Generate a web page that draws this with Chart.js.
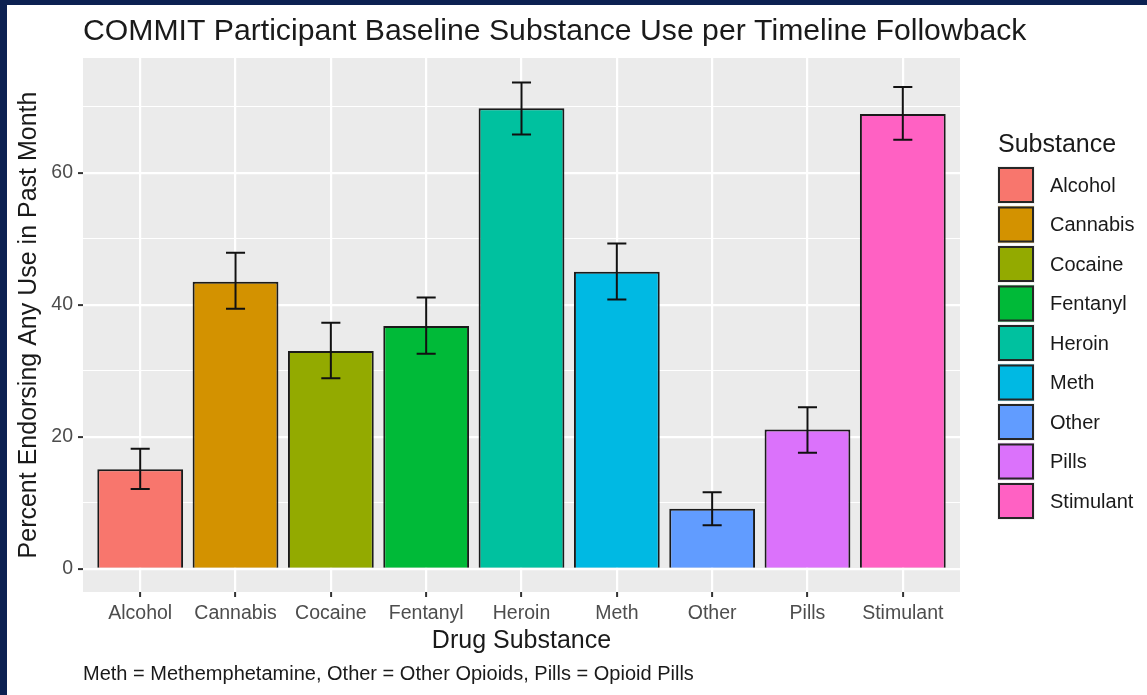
<!DOCTYPE html>
<html>
<head>
<meta charset="utf-8">
<title>COMMIT Participant Baseline Substance Use</title>
<script src="https://cdn.jsdelivr.net/npm/chart.js@4.4.1/dist/chart.umd.min.js"></script>
<style>
  html, body { margin: 0; padding: 0; background: #ffffff; }
  #wrap { width: 1147px; height: 695px; }
</style>
</head>
<body>
<div id="wrap"><canvas id="chart" width="1147" height="695"></canvas></div>
<script>
// Substances shown on the x axis and in the legend
const substances = ['Alcohol', 'Cannabis', 'Cocaine', 'Fentanyl', 'Heroin', 'Meth', 'Other', 'Pills', 'Stimulant'];
// Percent endorsing any use in the past month
const pctUse = [15.1, 43.5, 33.0, 36.8, 69.8, 45.0, 9.1, 21.1, 68.9];
// Lower / upper ends of the error bars
const ciLower = [12.1, 39.4, 28.9, 32.6, 65.8, 40.8, 6.6, 17.6, 65.0];
const ciUpper = [18.2, 47.9, 37.3, 41.1, 73.7, 49.3, 11.6, 24.5, 73.0];
// Y axis tick labels
const yTickLabels = [0, 20, 40, 60];
// Fill colours, one per substance
const fillColours = ['#F8766D', '#D39200', '#93AA00', '#00BA38', '#00C19F', '#00B9E3', '#619CFF', '#DB72FB', '#FF61C3'];

const FONT = '"Liberation Sans", Arial, Helvetica, sans-serif';
const PANEL = { left: 83, right: 960, top: 58, bottom: 592 };

// Page background, navy frame and grey panel
const backdrop = {
  id: 'backdrop',
  beforeDraw(chart) {
    const { ctx, chartArea: a } = chart;
    ctx.save();
    ctx.fillStyle = '#ffffff';
    ctx.fillRect(0, 0, chart.width, chart.height);
    ctx.fillStyle = '#0c2152';
    ctx.fillRect(0, 0, chart.width, 5);
    ctx.fillRect(0, 0, 7, chart.height);
    ctx.fillStyle = '#EBEBEB';
    ctx.fillRect(a.left, a.top, a.right - a.left, a.bottom - a.top);
    ctx.restore();
  }
};

// Error bars drawn from ciLower / ciUpper through the chart scales
const errorBars = {
  id: 'errorBars',
  afterDatasetsDraw(chart) {
    const { ctx, scales: { x, y } } = chart;
    const unit = x.getPixelForValue(2) - x.getPixelForValue(1);
    const half = unit * 0.1;
    ctx.save();
    ctx.strokeStyle = '#111111';
    ctx.lineWidth = 2;
    ctx.lineCap = 'butt';
    substances.forEach((_, i) => {
      const px = x.getPixelForValue(i + 1);
      const yLo = y.getPixelForValue(ciLower[i]);
      const yHi = y.getPixelForValue(ciUpper[i]);
      ctx.beginPath();
      ctx.moveTo(px, yLo); ctx.lineTo(px, yHi);
      ctx.moveTo(px - half, yHi); ctx.lineTo(px + half, yHi);
      ctx.moveTo(px - half, yLo); ctx.lineTo(px + half, yLo);
      ctx.stroke();
    });
    ctx.restore();
  }
};

// Title, axis titles, caption and the fill legend
const annotations = {
  id: 'annotations',
  afterDraw(chart) {
    const { ctx, chartArea: a } = chart;
    ctx.save();
    ctx.fillStyle = '#1a1a1a';
    ctx.textAlign = 'left';
    ctx.textBaseline = 'alphabetic';
    ctx.font = '30.2px ' + FONT;
    ctx.fillText('COMMIT Participant Baseline Substance Use per Timeline Followback', a.left, 40);

    ctx.font = '25px ' + FONT;
    ctx.textAlign = 'center';
    ctx.fillText('Drug Substance', (a.left + a.right) / 2, 648);

    ctx.save();
    ctx.translate(29, (a.top + a.bottom) / 2);
    ctx.rotate(-Math.PI / 2);
    ctx.textBaseline = 'middle';
    ctx.fillText('Percent Endorsing Any Use in Past Month', 0, 0);
    ctx.restore();

    ctx.textAlign = 'left';
    ctx.font = '20px ' + FONT;
    ctx.fillText('Meth = Methemphetamine, Other = Other Opioids, Pills = Opioid Pills', a.left, 680);

    // legend
    ctx.font = '25px ' + FONT;
    ctx.fillText('Substance', 998, 152);
    const keyX = 998, keyTop = 167, keySize = 36, keyStep = 39.5;
    ctx.font = '20px ' + FONT;
    substances.forEach((name, i) => {
      const top = keyTop + i * keyStep;
      ctx.fillStyle = '#F2F2F2';
      ctx.fillRect(keyX - 1, top - 1, keySize + 2, keySize + 2);
      ctx.fillStyle = fillColours[i];
      ctx.fillRect(keyX, top, keySize, keySize);
      ctx.strokeStyle = '#262626';
      ctx.lineWidth = 2;
      ctx.strokeRect(keyX + 1, top + 1, keySize - 2, keySize - 2);
      ctx.fillStyle = '#1a1a1a';
      ctx.textBaseline = 'middle';
      ctx.fillText(name, 1050, top + keySize / 2 + 1);
    });
    ctx.restore();
  }
};

const ctx = document.getElementById('chart').getContext('2d');
new Chart(ctx, {
  type: 'bar',
  data: {
    datasets: [{
      label: 'Substance',
      data: pctUse.map((v, i) => ({ x: i + 1, y: v })),
      backgroundColor: fillColours,
      borderColor: '#1a1a1a',
      borderWidth: 2,
      barPercentage: 0.9,
      categoryPercentage: 1.0
    }]
  },
  options: {
    responsive: false,
    animation: false,
    events: [],
    layout: { padding: { left: 0, right: 1147 - PANEL.right, top: PANEL.top, bottom: 0 } },
    plugins: {
      legend: { display: false },
      title: { display: false },
      tooltip: { enabled: false }
    },
    scales: {
      x: {
        type: 'linear',
        min: 0.4,
        max: 9.6,
        offset: false,
        afterBuildTicks(scale) {
          scale.ticks = substances.map((_, i) => ({ value: i + 1 }));
        },
        afterFit(scale) { scale.height = 695 - PANEL.bottom; },
        border: { display: false },
        grid: {
          offset: false,
          color: '#ffffff',
          lineWidth: 2.2,
          tickColor: '#333333',
          tickLength: 5,
          tickWidth: 2
        },
        ticks: {
          autoSkip: false,
          maxRotation: 0,
          padding: 5,
          color: '#4D4D4D',
          font: { family: FONT, size: 19.5 },
          callback: (v) => substances[Math.round(v) - 1] || ''
        }
      },
      y: {
        min: -3.5,
        max: 77.4,
        afterBuildTicks(scale) {
          const t = [];
          for (let v = 0; v <= 70; v += 10) t.push({ value: v });
          scale.ticks = t;
        },
        afterFit(scale) { scale.width = PANEL.left; },
        border: { display: false },
        grid: {
          color: '#ffffff',
          lineWidth: (c) => (c.tick && c.tick.value % 20 === 0 ? 2.2 : 1.1),
          tickColor: (c) => (c.tick && yTickLabels.includes(c.tick.value) ? '#333333' : 'rgba(0,0,0,0)'),
          tickLength: 5,
          tickWidth: 2
        },
        ticks: {
          padding: 5,
          color: '#4D4D4D',
          font: { family: FONT, size: 19.5 },
          callback: (v) => (yTickLabels.includes(v) ? String(v) : '')
        }
      }
    }
  },
  plugins: [backdrop, errorBars, annotations]
});
</script>
</body>
</html>
